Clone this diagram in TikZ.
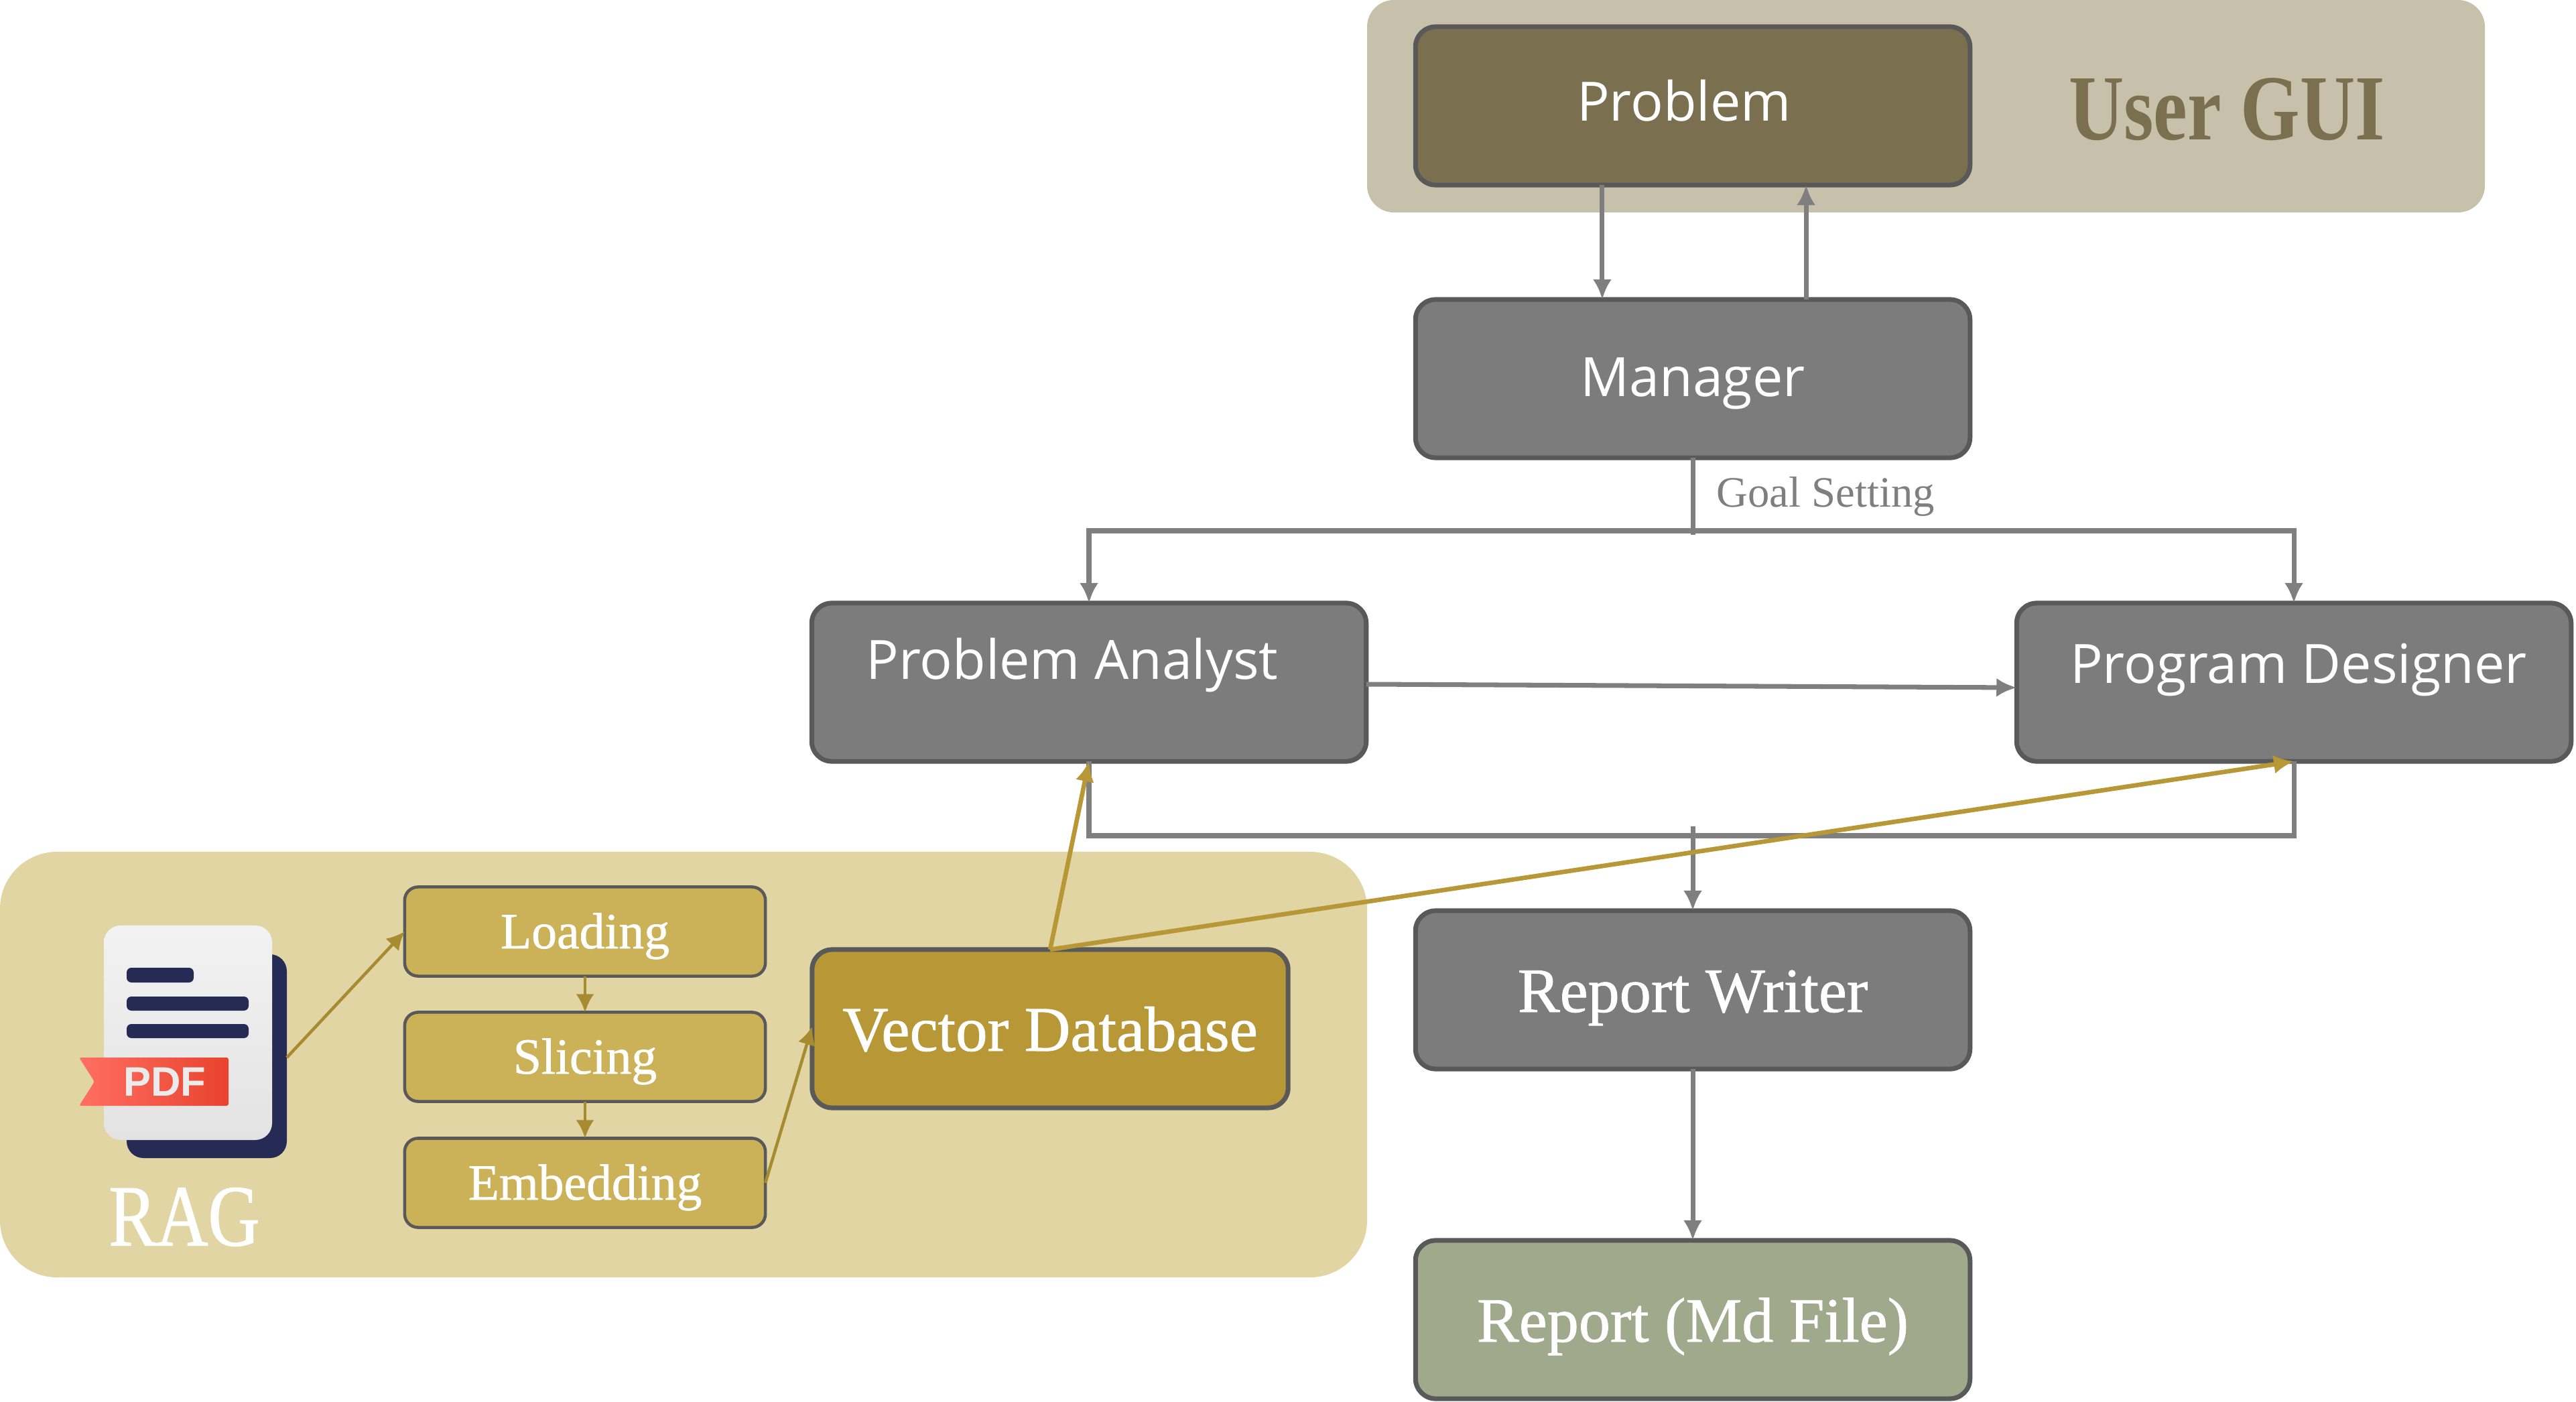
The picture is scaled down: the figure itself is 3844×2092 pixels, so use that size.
\documentclass[tikz,border=0pt]{standalone}
\usepackage{fontspec}
\setmainfont{Liberation Serif}
\newfontfamily\uifont{Open Sans}
\newfontfamily\serfont[FakeBold=0.9]{Liberation Serif}
\newfontfamily\capfont[FakeStretch=0.82,FakeBold=0.9]{Liberation Serif}
\newfontfamily\guifont[FakeStretch=0.82]{Liberation Serif}
\newfontfamily\pdffont{Liberation Sans}
\usetikzlibrary{arrows.meta}
\definecolor{guibg}{HTML}{C7C0AB}
\definecolor{guibox}{HTML}{7A6F4F}
\definecolor{ragbg}{HTML}{E2D5A4}
\definecolor{ragbox}{HTML}{CBB158}
\definecolor{vecbox}{HTML}{B89836}
\definecolor{ragline}{HTML}{A68B30}
\definecolor{boxgray}{HTML}{7C7C7C}
\definecolor{edgegray}{HTML}{595959}
\definecolor{linegray}{HTML}{7F7F7F}
\definecolor{mdbox}{HTML}{A0A98B}
\definecolor{docdark}{HTML}{262B55}
\definecolor{ribbonl}{HTML}{FF6F61}
\definecolor{ribbonr}{HTML}{E8432F}
\tikzset{
    box/.style={draw=edgegray, line width=2pt, rounded corners=0.3cm, fill=boxgray,
        minimum width=8.27cm, minimum height=2.36cm, text=white, inner sep=0pt, outer sep=0pt},
    ragstep/.style={draw=edgegray, line width=1.3pt, rounded corners=0.2cm, fill=ragbox,
        minimum width=5.38cm, minimum height=1.33cm, text=white, inner sep=0pt, outer sep=0pt,
        text height=0.6cm, text depth=0.1cm, font=\serfont\fontsize{21.5}{24}\selectfont},
    uitext/.style={text=white, font=\uifont\fontsize{23}{26}\selectfont},
    sertext/.style={text height=0.8cm, text depth=0.14cm, font=\serfont\fontsize{26.8}{30}\selectfont},
    gline/.style={linegray, line width=2pt, -{Latex[length=0.3cm,width=0.28cm]}},
    gplain/.style={linegray, line width=2pt},
    yline/.style={vecbox, line width=1.9pt, -{Latex[length=0.3cm,width=0.28cm]}},
    rline/.style={ragline, line width=1.3pt, -{Latex[length=0.27cm,width=0.27cm]}},
    docbar/.style={fill=docdark, rounded corners=0.07cm}
}
\begin{document}
\begin{tikzpicture}[x=0.01cm, y=-0.01cm]
    \useasboundingbox (0,0) rectangle (3844,2092);
    % Background panels
    \fill [guibg, rounded corners=0.4cm] (2040,0) rectangle (3708,317);
    \fill [ragbg, rounded corners=0.85cm] (0,1271) rectangle (2040,1906);
    % Agents
    \node [box, fill=guibox] (problem) at (2526,158) {};
    \node [box, uitext, text height=0.6cm, text depth=0.07cm] (manager) at (2526,565) {Manager};
    \node [box] (pa) at (1625,1018) {};
    \node [box] (pd) at (3423,1018) {};
    \node [box, sertext] (writer) at (2526,1477) {Report Writer};
    \node [box, sertext, fill=mdbox] (report) at (2526,1969) {Report (Md File)};
    \node [uitext] (lproblem) at (2513,150) {Problem};
    \node [uitext] (lpa) at (1600,992) {Problem Analyst};
    \node [uitext] (lpd) at (3430,1000) {Program Designer};
    \node [text=guibox, font=\guifont\bfseries\fontsize{39.5}{42}\selectfont] (lgui) at (3323,163) {User GUI};
    \node [text=linegray, font=\fontsize{18.4}{20}\selectfont] (lgoal) at (2724,741) {Goal Setting};
    % RAG part
    \node [ragstep] (loading) at (873,1390) {Loading};
    \node [ragstep] (slicing) at (873,1577) {Slicing};
    \node [ragstep] (embedding) at (873,1765) {Embedding};
    \node [box, sertext, fill=vecbox, minimum width=7.1cm, font=\serfont\fontsize{27}{30}\selectfont] (vector) at (1567,1535) {Vector Database};
    \node [text=white, font=\capfont\fontsize{37}{40}\selectfont] (lrag) at (275,1816) {RAG};
    % PDF icon
    \fill [docdark, rounded corners=0.25cm] (189,1424) rectangle (428,1728);
    \shade [top color=white!95!black, bottom color=white!89!black, rounded corners=0.25cm] (155,1381) rectangle (406,1701);
    \fill [docbar] (189,1444) rectangle (289,1466);
    \fill [docbar] (189,1487) rectangle (371,1508);
    \fill [docbar] (189,1528) rectangle (371,1549);
    \shade [left color=ribbonl, right color=ribbonr, rounded corners=0.03cm]
        (118,1578) -- (341,1578) -- (341,1650) -- (118,1650) -- (141,1614) -- cycle;
    \node [text=white!92!black, font=\pdffont\bfseries\fontsize{17.5}{20}\selectfont] (lpdf) at (246,1614) {PDF};
    \coordinate (pdfout) at (428,1578);
    % Connectors
    \draw [gline] ([xshift=-1.35cm]problem.south) -- ([xshift=-1.35cm]manager.north);
    \draw [gline] ([xshift=1.69cm]manager.north) -- ([xshift=1.69cm]problem.south);
    \coordinate (busm) at (manager.south |- 0,792);
    \draw [gplain] (manager.south) -- ([yshift=-0.06cm]busm);
    \draw [gline] (busm) -| (pa.north);
    \draw [gline] (busm) -| (pd.north);
    \draw [gline] ([yshift=-0.03cm]pa.east) -- ([yshift=-0.08cm]pd.west);
    \coordinate (loopl) at (pa.south |- 0,1247);
    \coordinate (loopr) at (pd.south |- 0,1247);
    \coordinate (wtop) at (writer.north |- 0,1233);
    \draw [gplain] (pa.south) -- (loopl) -- (loopr) -- (pd.south);
    \draw [gline] (wtop) -- (writer.north);
    \draw [gline] (writer.south) -- (report.north);
    \draw [rline] (pdfout) -- (loading.west);
    \draw [rline] (loading.south) -- (slicing.north);
    \draw [rline] (slicing.south) -- (embedding.north);
    \draw [rline] (embedding.east) -- ([yshift=0.03cm]vector.west);
    \draw [yline] (vector.north) -- (pa.south);
    \draw [yline] (vector.north) -- (pd.south);
\end{tikzpicture}
\end{document}
